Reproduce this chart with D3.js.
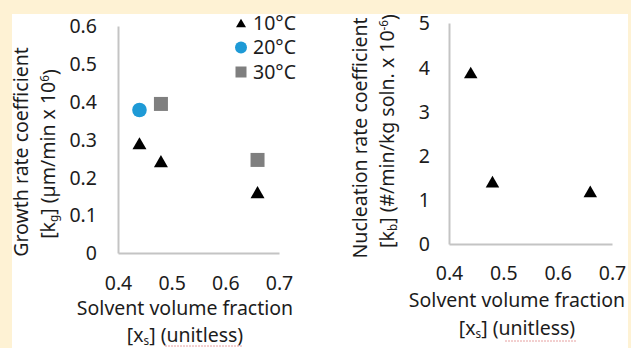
<!DOCTYPE html>
<html>
<head>
<meta charset="utf-8">
<script src="https://cdn.jsdelivr.net/npm/d3@7"></script>
<style>
  html, body { margin: 0; padding: 0; background: #fef2d4; }
  svg { display: block; }
  text { font-family: "Noto Sans", Lato, sans-serif; fill: #1c1c1c; }
</style>
</head>
<body>
<svg id="chart" width="631" height="348"></svg>
<script>
// Shared x ticks (solvent volume fraction)
const xTicks = [0.4, 0.5, 0.6, 0.7];

// Growth rate coefficient panel
const growthTicks = [0, 0.1, 0.2, 0.3, 0.4, 0.5, 0.6];
const growthX10 = [0.44, 0.48, 0.66];
const growthY10 = [0.29, 0.243, 0.161];
const growthX20 = [0.44];
const growthY20 = [0.378];
const growthX30 = [0.48, 0.66];
const growthY30 = [0.394, 0.246];

// Nucleation rate coefficient panel
const nucTicks = [0, 1, 2, 3, 4, 5];
const nucX10 = [0.44, 0.48, 0.66];
const nucY10 = [3.88, 1.41, 1.19];

const legendLabels = ["10°C", "20°C", "30°C"];

const svg = d3.select("#chart");
const FONT = "Noto Sans";
const FS = 19.5;
const axisColor = "#c4c4c4";

svg.append("rect").attr("width", 631).attr("height", 348).attr("fill", "#fef2d4");
svg.append("rect").attr("x", 12).attr("y", 14).attr("width", 616).attr("height", 334).attr("fill", "#ffffff");

// Triangle centred on its bounding box
const bboxTriangle = {
  draw(ctx, size) {
    const s = Math.sqrt(size * 4 / Math.sqrt(3));
    const h = s * Math.sqrt(3) / 2;
    ctx.moveTo(0, -h / 2);
    ctx.lineTo(s / 2, h / 2);
    ctx.lineTo(-s / 2, h / 2);
    ctx.closePath();
  }
};
const triArea = (s) => Math.sqrt(3) / 4 * s * s;

function panel(cfg) {
  const x = d3.scaleLinear().domain([0.4, 0.7]).range(cfg.xr);
  const y = d3.scaleLinear().domain(cfg.yd).range(cfg.yr);
  const g = svg.append("g");

  const ya = g.append("g").attr("transform", `translate(${cfg.xr[0]},0)`)
    .call(d3.axisLeft(y).tickValues(cfg.yTicks).tickSize(0).tickSizeOuter(0)
      .tickPadding(cfg.yPad).tickFormat(cfg.yFmt));
  const xa = g.append("g").attr("transform", `translate(0,${cfg.yr[0]})`)
    .call(d3.axisBottom(x).tickValues(xTicks).tickSize(0).tickSizeOuter(0)
      .tickFormat(d3.format(".1f")));
  [ya, xa].forEach(a => {
    a.select(".domain").attr("stroke", axisColor).attr("stroke-width", 2);
    a.selectAll("text").attr("font-family", FONT).attr("font-size", FS).attr("fill", "#1c1c1c");
  });
  xa.selectAll("text").attr("y", cfg.xPad).attr("dy", "0.35em");
  ya.selectAll("text").attr("dy", "0.35em");

  // x-axis title
  g.append("text").attr("x", cfg.xtX).attr("y", cfg.xt1Y).attr("dy", "0.35em")
    .attr("text-anchor", "middle").attr("font-size", FS).text("Solvent volume fraction");
  const t2 = g.append("text").attr("x", cfg.xtX).attr("y", cfg.xt2Y).attr("dy", "0.35em")
    .attr("text-anchor", "middle").attr("font-size", FS);
  t2.append("tspan").text("[x");
  t2.append("tspan").attr("font-size", FS * 0.6).attr("dy", "0.25em").text("s");
  t2.append("tspan").attr("dy", "-0.15em").text("] ");
  t2.append("tspan").text("(unitless)");
  g.append("line").attr("x1", cfg.ulX[0]).attr("x2", cfg.ulX[1]).attr("y1", cfg.ulY).attr("y2", cfg.ulY)
    .attr("stroke", "#e6a0a0").attr("stroke-width", 1).attr("stroke-dasharray", "2,1");

  // y-axis title (two rotated lines)
  g.append("text").attr("transform", `translate(${cfg.yt1X},${cfg.yt1Y}) rotate(-90)`)
    .attr("dy", "0.35em").attr("text-anchor", "middle").attr("font-size", FS).text(cfg.yTitle1);
  const l2 = g.append("text").attr("transform", `translate(${cfg.yt2X},${cfg.yt2Y}) rotate(-90)`)
    .attr("dy", "0.35em").attr("text-anchor", "middle").attr("font-size", FS);
  l2.append("tspan").text("[k");
  l2.append("tspan").attr("font-size", FS * 0.6).attr("dy", "0.25em").text(cfg.ySub);
  l2.append("tspan").attr("dy", "-0.15em").text(cfg.yMid);
  l2.append("tspan").attr("font-size", FS * 0.6).attr("dy", "-0.5em").text(cfg.ySup);
  l2.append("tspan").attr("dy", "0.4em").text(")");

  return { g, x, y };
}

// Left panel: growth rate coefficient
const L = panel({
  xr: [118, 279], yd: [0, 0.6], yr: [253, 26], yTicks: growthTicks, yPad: 21,
  yFmt: d => d === 0 ? "0" : d3.format(".1f")(d), xPad: 30,
  xtX: 185, xt1Y: 308.5, xt2Y: 335, ulX: [165, 242], ulY: 346,
  yt1X: 21, yt1Y: 152, yt2X: 48, yt2Y: 154,
  yTitle1: "Growth rate coefficient", ySub: "g", yMid: "] (µm/min x 10", ySup: "6"
});

// Right panel: nucleation rate coefficient
const R = panel({
  xr: [449, 612], yd: [0, 5], yr: [244, 23], yTicks: nucTicks, yPad: 19,
  yFmt: d3.format("d"), xPad: 29,
  xtX: 517, xt1Y: 300, xt2Y: 328, ulX: [505, 577], ulY: 341,
  yt1X: 360, yt1Y: 138, yt2X: 387, yt2Y: 131,
  yTitle1: "Nucleation rate coefficient", ySub: "b", yMid: "] (#/min/kg soln. x 10", ySup: "-6"
});

function markers(P, xs, ys, type, size, fill) {
  P.g.append("g").selectAll("path").data(xs.map((v, i) => [v, ys[i]])).join("path")
    .attr("transform", d => `translate(${P.x(d[0])},${P.y(d[1])})`)
    .attr("d", d3.symbol().type(type).size(size))
    .attr("fill", fill);
}

markers(L, growthX30, growthY30, d3.symbolSquare, 14 * 14, "#7f7f7f");
markers(L, growthX20, growthY20, d3.symbolCircle, Math.PI * 7.3 * 7.3, "#1e9ad6");
markers(L, growthX10, growthY10, bboxTriangle, triArea(14), "#000000");
markers(R, nucX10, nucY10, bboxTriangle, triArea(13.5), "#000000");

// Legend
const legendTypes = [
  [bboxTriangle, triArea(10), "#000000"],
  [d3.symbolCircle, Math.PI * 6 * 6, "#1e9ad6"],
  [d3.symbolSquare, 11 * 11, "#7f7f7f"]
];
const legY = d3.scalePoint().domain(legendLabels).range([23, 72]);
const leg = svg.append("g");
legendLabels.forEach((lab, i) => {
  leg.append("path").attr("transform", `translate(241,${legY(lab)})`)
    .attr("d", d3.symbol().type(legendTypes[i][0]).size(legendTypes[i][1]))
    .attr("fill", legendTypes[i][2]);
  leg.append("text").attr("x", 253).attr("y", legY(lab)).attr("dy", "0.35em")
    .attr("font-size", FS).text(lab);
});
</script>
</body>
</html>
